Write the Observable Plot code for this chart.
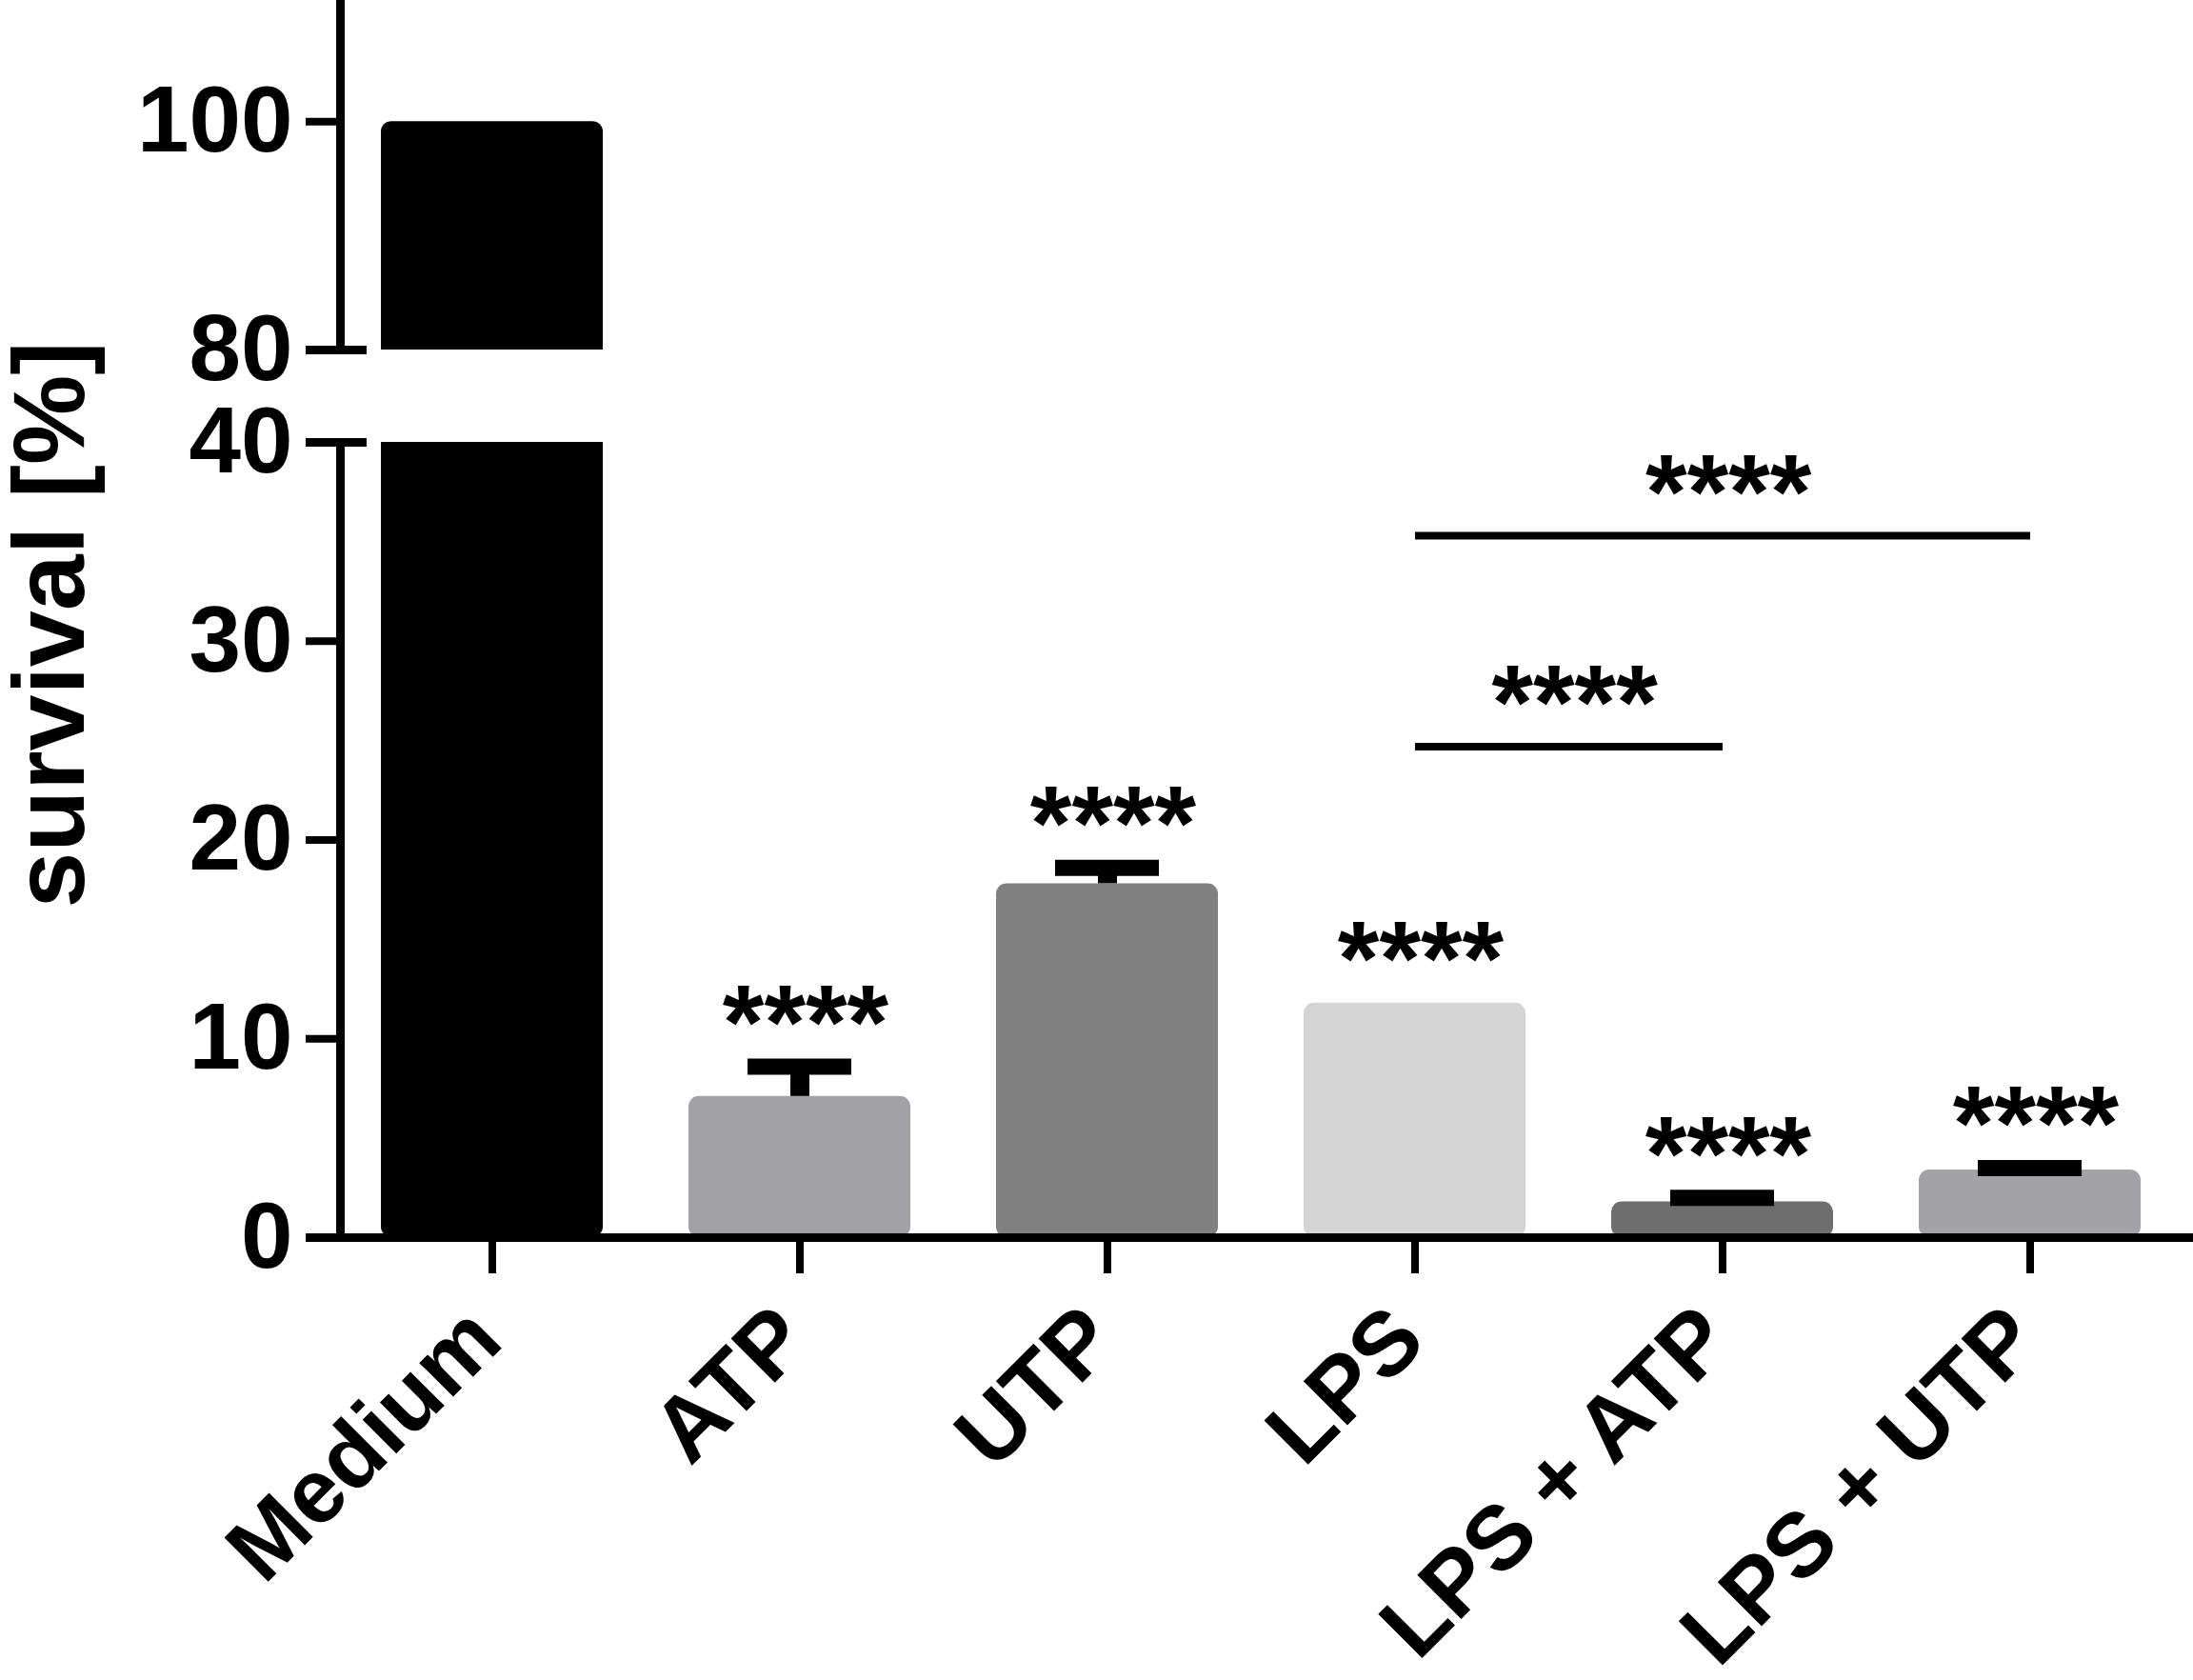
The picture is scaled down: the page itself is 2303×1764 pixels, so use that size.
<!DOCTYPE html>
<html>
<head>
<meta charset="utf-8">
<script src="https://cdn.jsdelivr.net/npm/d3@7"></script>
<script src="https://cdn.jsdelivr.net/npm/@observablehq/plot@0.6"></script>
<style>
html, body { margin: 0; padding: 0; background: #fff; }
#chart { position: relative; width: 2303px; height: 1764px; overflow: hidden; }
#chart svg { position: absolute; left: 0; top: 0; }
</style>
</head>
<body>
<div id="chart"></div>
<script>
// ---- data ----
const categories = ["Medium", "ATP", "UTP", "LPS", "LPS + ATP", "LPS + UTP"];
const survival = [100, 7.1, 17.8, 11.8, 1.8, 3.4];
const errorTop = [null, 8.6, 18.6, null, 2.0, 3.5];
const significance = [null, "****", "****", "****", "****", "****"];
const comparisonFrom = ["LPS", "LPS"];
const comparisonTo = ["LPS + ATP", "LPS + UTP"];
const comparisonLevel = [24.7, 35.3];
const comparisonLabel = ["****", "****"];
const upperTicks = [80, 100];
const lowerTicks = [0, 10, 20, 30, 40];
const upperDomain = [80, 110.6];
const lowerDomain = [0, 40];
const yLabel = "survival [%]";

// ---- styles ----
const barColors = ["#000000", "#a2a1a6", "#808080", "#d4d4d4", "#6e6e6e", "#a3a2a7"];
const font = "'Liberation Sans', Arial, Helvetica, sans-serif";
const W = 2303, H = 1764, ML = 357, MR = 13;
const upperBottom = 367, lowerTop = 464, lowerBottom = 1299;
const FW = W - ML - MR;

const rows = categories.map((c, i) => ({group: c, value: survival[i], err: errorTop[i], sig: significance[i]}));
const errRows = rows.filter(d => d.err != null);
const sigRows = rows.filter(d => d.sig);
const comparisons = comparisonFrom.map((f, i) => ({from: f, to: comparisonTo[i], level: comparisonLevel[i], label: comparisonLabel[i]}));

const xOpts = {type: "band", domain: categories, paddingInner: 0.28, paddingOuter: 0.13};
const xScale = Plot.scale({x: {...xOpts, range: [ML, W - MR]}});
const colorOpts = {domain: categories, range: barColors};

const tickStyle = {tickSize: 36, tickPadding: 14, strokeWidth: 8, fontSize: 98, fontWeight: "bold", label: null};

const upper = Plot.plot({
  width: W, height: H,
  marginLeft: ML, marginRight: MR, marginTop: 0, marginBottom: H - upperBottom,
  x: {...xOpts, axis: null},
  y: {domain: upperDomain},
  color: colorOpts,
  style: {fontFamily: font, background: "white", color: "black"},
  marks: [
    Plot.barY(rows, {x: "group", y: "value", fill: "group", rx: 11, clip: true}),
    Plot.frame({anchor: "left", strokeWidth: 9}),
    Plot.axisY({ticks: upperTicks, ...tickStyle}),
    Plot.ruleY([upperDomain[0]], {strokeWidth: 9, insetLeft: -36, insetRight: FW - 28})
  ]
});

const lower = Plot.plot({
  width: W, height: H,
  marginLeft: ML, marginRight: MR, marginTop: lowerTop, marginBottom: H - lowerBottom,
  x: xOpts,
  y: {domain: lowerDomain},
  color: colorOpts,
  style: {fontFamily: font, background: "transparent", color: "black"},
  marks: [
    Plot.barY(rows, {x: "group", y: "value", fill: "group", rx: 11, clip: true}),
    Plot.ruleX(errRows, {x: "group", y1: "value", y2: "err", strokeWidth: 20}),
    Plot.tickY(errRows, {x: "group", y: "err", strokeWidth: 17, inset: 62}),
    Plot.text(sigRows, {x: "group", y: d => d.err ?? d.value, text: "sig", lineAnchor: "bottom",
      fontSize: 112, fontWeight: "bold", dx: 6, dy: -8}),
    Plot.link(comparisons, {x1: "from", x2: "to", y1: "level", y2: "level", strokeWidth: 8, strokeLinecap: "butt"}),
    ...comparisons.map(c => Plot.text([c], {x: "from", y: "level", text: "label", lineAnchor: "bottom",
      fontSize: 112, fontWeight: "bold",
      dx: (xScale.apply(c.to) - xScale.apply(c.from)) / 2 + 6, dy: -8})),
    Plot.frame({anchor: "left", strokeWidth: 9}),
    Plot.axisY({ticks: lowerTicks, ...tickStyle}),
    Plot.ruleY([lowerDomain[1]], {strokeWidth: 9, insetLeft: -36, insetRight: FW - 28}),
    Plot.ruleY([0], {strokeWidth: 9, insetLeft: -36, insetRight: -MR}),
    Plot.axisX({tickSize: 38, strokeWidth: 8, tickFormat: () => "", label: null}),
    Plot.text(categories, {x: d => d, text: d => d, frameAnchor: "bottom", rotate: -45,
      textAnchor: "end", lineAnchor: "bottom", dx: 14, dy: 112, fontSize: 95, fontWeight: "bold"}),
    Plot.text([yLabel], {text: d => d, frameAnchor: "left", rotate: -90, textAnchor: "middle",
      lineAnchor: "bottom", dx: -270, dy: -226, fontSize: 106, fontWeight: "bold"})
  ]
});

const chart = document.getElementById("chart");
chart.append(upper, lower);
</script>
</body>
</html>
